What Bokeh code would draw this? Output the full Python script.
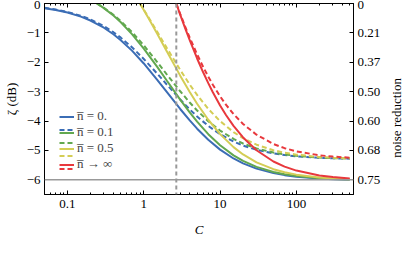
from bokeh.plotting import figure
from bokeh.layouts import row
from bokeh.models import (LogAxis, LinearAxis, FixedTicker, Span,
                          Legend, LegendItem, Range1d, Div)
from bokeh.embed import file_html
from bokeh.resources import INLINE

# ---------------- data ----------------
C_n0 = [0.05, 0.07, 0.1, 0.15, 0.2, 0.3, 0.4, 0.5, 0.7, 1, 1.5, 2, 3, 4, 5, 7, 10, 15, 20, 30,
        50, 70, 100, 200, 300, 500]
zeta_n0_solid = [-0.158, -0.219, -0.307, -0.447, -0.580, -0.825, -1.047, -1.249, -1.604, -2.041,
                 -2.596, -3.010, -3.590, -3.979, -4.260, -4.638, -4.973, -5.274, -5.441, -5.619,
                 -5.772, -5.841, -5.894, -5.956, -5.977, -5.994]
zeta_n0_dashed = [-0.148, -0.205, -0.288, -0.419, -0.543, -0.771, -0.977, -1.163, -1.489, -1.888,
                  -2.388, -2.757, -3.267, -3.605, -3.846, -4.167, -4.448, -4.697, -4.834, -4.979,
                  -5.103, -5.158, -5.200, -5.250, -5.268, -5.281]

C_n01 = [0.2424, 0.26, 0.3, 0.4, 0.5, 0.7, 1, 1.5, 2, 3, 4, 5, 7, 10, 15, 20, 30, 50, 70, 100,
         200, 300, 500]
zeta_n01_solid = [0, -0.049, -0.158, -0.411, -0.640, -1.042, -1.534, -2.157, -2.621, -3.271,
                  -3.707, -4.021, -4.447, -4.826, -5.167, -5.357, -5.560, -5.735, -5.814, -5.874,
                  -5.947, -5.971, -5.991]
zeta_n01_dashed = [0, -0.046, -0.148, -0.385, -0.599, -0.972, -1.425, -1.993, -2.410, -2.987,
                   -3.369, -3.641, -4.005, -4.325, -4.609, -4.765, -4.931, -5.073, -5.136, -5.185,
                   -5.243, -5.262, -5.278]

C_n05 = [0.8889, 1, 1.2, 1.5, 2, 3, 4, 5, 7, 10, 15, 20, 30, 50, 70, 100, 200, 300, 500]
zeta_n05_solid = [0, -0.223, -0.580, -1.032, -1.627, -2.455, -3.010, -3.411, -3.956, -4.445,
                  -4.888, -5.137, -5.406, -5.638, -5.743, -5.824, -5.921, -5.954, -5.980]
zeta_n05_dashed = [0, -0.209, -0.543, -0.963, -1.510, -2.261, -2.757, -3.111, -3.585, -4.003,
                   -4.377, -4.583, -4.805, -4.994, -5.079, -5.144, -5.222, -5.248, -5.270]

C_inf = [2.6667, 3, 3.5, 4, 5, 6, 7, 8, 10, 12, 15, 20, 30, 50, 70, 100, 200, 300, 500]
zeta_inf_solid = [0, -0.378, -0.854, -1.249, -1.871, -2.341, -2.711, -3.010, -3.468, -3.802,
                  -4.164, -4.559, -4.994, -5.376, -5.551, -5.686, -5.850, -5.906, -5.952]
zeta_inf_dashed = [0, -0.354, -0.798, -1.163, -1.733, -2.159, -2.491, -2.757, -3.160, -3.452,
                   -3.764, -4.100, -4.465, -4.781, -4.923, -5.033, -5.165, -5.210, -5.247]

C_threshold = 2.667      # vertical dashed marker
zeta_limit = -6.0        # horizontal limit line

series_labels = ["n\u0305 = 0.", "n\u0305 = 0.1", "n\u0305 = 0.5", "n\u0305 \u2192 \u221e"]
series_colors = ["#3b6db5", "#62a84f", "#d4cd55", "#e8383d"]

x_major_ticks = [0.1, 1, 10, 100]
x_major_labels = ["0.1", "1", "10", "100"]
y_ticks = [0, -1, -2, -3, -4, -5, -6]
y_left_labels = ["0", "\u22121", "\u22122", "\u22123", "\u22124", "\u22125", "\u22126"]
y_right_labels = ["0", "0.21", "0.37", "0.50", "0.60", "0.68", "0.75"]
right_axis_title = "noise reduction"

# ---------------- figure ----------------
FONT = "Liberation Serif"
FS = "13px"

p = figure(width=385, height=239, x_axis_type="log",
           x_range=Range1d(0.05, 560), y_range=Range1d(-6.5, 0),
           output_backend="svg", toolbar_location=None,
           min_border_left=38, min_border_right=32, min_border_top=3, min_border_bottom=43)
p.grid.visible = False
p.outline_line_color = "black"
p.outline_line_width = 1

minor_x = [m * 10.0 ** e for e in range(-2, 3) for m in range(2, 10)]
minor_x = [v for v in minor_x if 0.05 <= v <= 560]


def style_axis(ax):
    ax.axis_line_color = "black"
    ax.major_tick_line_color = "black"
    ax.minor_tick_line_color = "black"
    ax.major_tick_in = 4
    ax.major_tick_out = 0
    ax.minor_tick_in = 2
    ax.minor_tick_out = 0
    ax.major_label_text_font = FONT
    ax.major_label_text_font_size = FS
    ax.major_label_text_color = "black"
    ax.axis_label_text_font = FONT
    ax.axis_label_text_font_size = FS
    ax.axis_label_text_color = "black"
    ax.axis_label_text_font_style = "normal"


xax = p.xaxis[0]
xax.ticker = FixedTicker(ticks=x_major_ticks, minor_ticks=minor_x)
xax.major_label_overrides = dict(zip(x_major_ticks, x_major_labels))
xax.axis_label = "C"
style_axis(xax)
xax.axis_label_text_font_style = "italic"
xax.major_label_standoff = 5
xax.axis_label_standoff = 11

yax = p.yaxis[0]
yax.ticker = FixedTicker(ticks=y_ticks)
yax.major_label_overrides = dict(zip(y_ticks, y_left_labels))
yax.axis_label = "\u03b6 (dB)"
style_axis(yax)
yax.major_label_standoff = 4
yax.axis_label_standoff = 5

top_ax = LogAxis(ticker=FixedTicker(ticks=x_major_ticks, minor_ticks=minor_x))
style_axis(top_ax)
top_ax.major_label_overrides = {t: "" for t in x_major_ticks}
top_ax.major_label_standoff = 0
p.add_layout(top_ax, "above")

right_ax = LinearAxis(ticker=FixedTicker(ticks=y_ticks))
right_ax.major_label_overrides = dict(zip(y_ticks, y_right_labels))
style_axis(right_ax)
right_ax.major_label_standoff = 4
p.add_layout(right_ax, "right")

# reference lines
p.add_layout(Span(location=zeta_limit, dimension="width", line_color="#999999", line_width=1.6))
p.add_layout(Span(location=C_threshold, dimension="height", line_color="#999999",
                  line_width=2, line_dash="4 3"))

# curves
series = [
    (C_n0, zeta_n0_solid, zeta_n0_dashed),
    (C_n01, zeta_n01_solid, zeta_n01_dashed),
    (C_n05, zeta_n05_solid, zeta_n05_dashed),
    (C_inf, zeta_inf_solid, zeta_inf_dashed),
]
solid_items, dashed_items = [], []
for (cx, zs, zd), col, lab in zip(series, series_colors, series_labels):
    rd = p.line(cx, zd, line_color=col, line_width=2, line_dash="5 3")
    rs = p.line(cx, zs, line_color=col, line_width=2)
    solid_items.append(LegendItem(label=lab, renderers=[rs]))
    dashed_items.append(LegendItem(label="", renderers=[rd]))


def make_legend(items, loc):
    lg = Legend(items=items, location=loc, padding=0, margin=0, spacing=0,
                glyph_width=15, glyph_height=13, label_height=13, label_standoff=3,
                label_text_font=FONT, label_text_font_size=FS,
                border_line_color=None, background_fill_alpha=0)
    try:
        lg.spacing = -2
    except Exception:
        lg.spacing = 0
    return lg


p.add_layout(make_legend(dashed_items, (15, 19)))
p.add_layout(make_legend(solid_items, (15, 22)))

# right-hand axis title, reading bottom-to-top like the reference
side_title = Div(
    text=('<span style="display:inline-block; margin-top:73px; writing-mode:vertical-rl; '
          'transform:rotate(180deg); white-space:nowrap; font-family:\'Liberation Serif\'; '
          'font-size:13px; line-height:14px; color:black;">' + right_axis_title + '</span>'),
    width=14, height=239)

layout = row(p, side_title, spacing=0)
open("out.html", "w").write(file_html(layout, INLINE))
